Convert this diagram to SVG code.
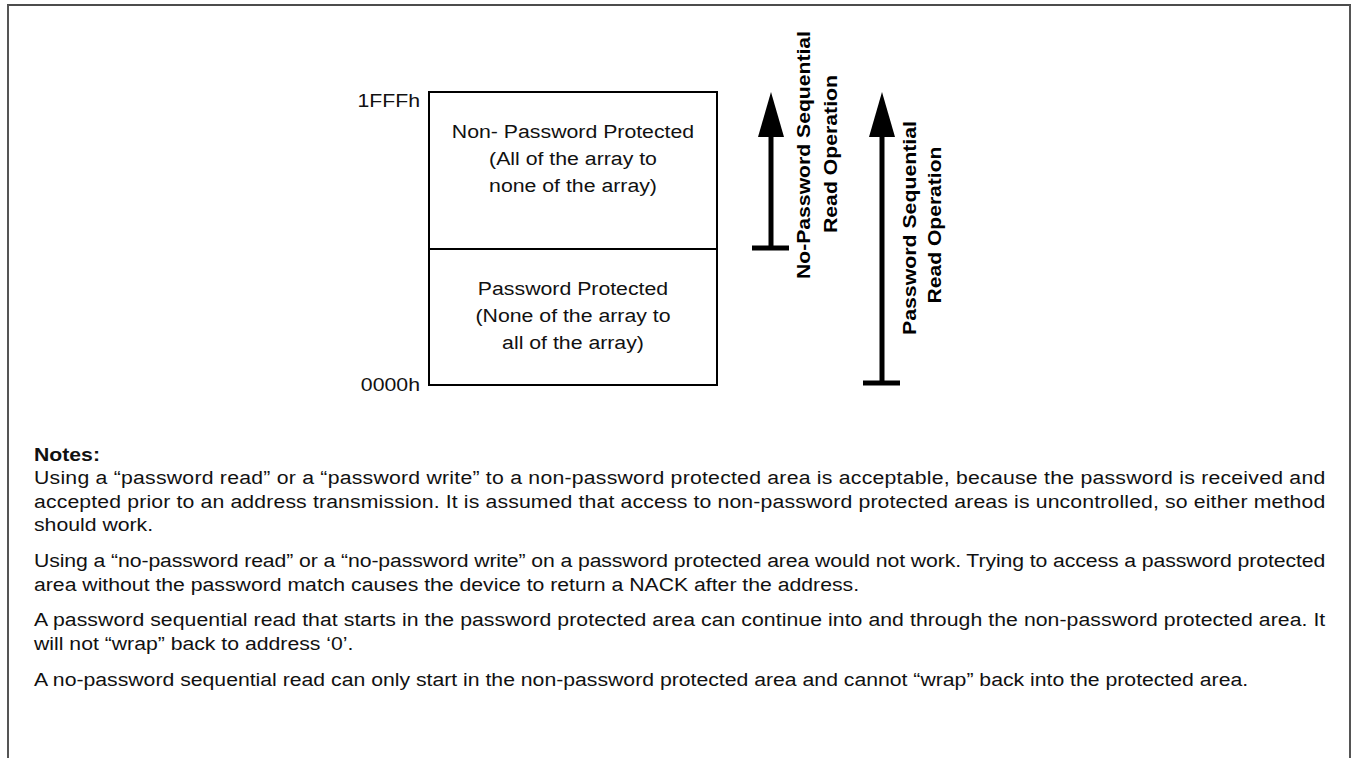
<svg xmlns="http://www.w3.org/2000/svg" width="1353" height="758" viewBox="0 0 1353 758">
  <style>
    .frame { fill: none; stroke: #555; stroke-width: 2; }
    .frametop { stroke: #111; stroke-width: 1.5; }
    .box { fill: #fff; stroke: #000; stroke-width: 2; }
    .lbl { font-family: "Liberation Sans", Arial, sans-serif; font-size: 19px; fill: #111; }
    .mid { text-anchor: middle; }
    .end { text-anchor: end; }
    .bold { font-family: "Liberation Sans", Arial, sans-serif; font-size: 19px; font-weight: bold; fill: #000; text-anchor: middle; }
    .note { font-family: "Liberation Sans", Arial, sans-serif; font-size: 19px; fill: #111; }
    .shaft { stroke: #000; stroke-width: 5; fill: none; }
    .head { fill: #000; }
  </style>

  <!-- page frame -->
  <g id="frame">
    <line class="frametop" x1="7" y1="5" x2="1351" y2="5"/>
    <line class="frame" x1="8" y1="5" x2="8" y2="758"/>
    <line class="frame" x1="1350" y1="5" x2="1350" y2="758"/>
  </g>

  <!-- memory map; horizontal type is set slightly expanded (x 1.12) -->
  <g id="addr-top">
    <text class="lbl end" transform="matrix(1.12 0 0 1 420 107)">1FFFh</text>
  </g>
  <g id="addr-bottom">
    <text class="lbl end" transform="matrix(1.12 0 0 1 420 391)">0000h</text>
  </g>
  <g id="region-unprotected">
    <rect class="box" x="429" y="92" width="288" height="157"/>
    <text class="lbl mid" transform="matrix(1.12 0 0 1 573 138)">Non- Password Protected</text>
    <text class="lbl mid" transform="matrix(1.12 0 0 1 573 165)">(All of the array to</text>
    <text class="lbl mid" transform="matrix(1.12 0 0 1 573 192)">none of the array)</text>
  </g>
  <g id="region-protected">
    <rect class="box" x="429" y="249" width="288" height="136"/>
    <text class="lbl mid" transform="matrix(1.12 0 0 1 573 295)">Password Protected</text>
    <text class="lbl mid" transform="matrix(1.12 0 0 1 573 322)">(None of the array to</text>
    <text class="lbl mid" transform="matrix(1.12 0 0 1 573 349)">all of the array)</text>
  </g>

  <!-- sequential read direction arrows -->
  <g id="connectors">
    <g id="no-password-read">
      <line class="shaft" x1="771" y1="248" x2="771" y2="130"/>
      <polygon class="head" points="771,92 758,137 784,137"/>
      <line class="shaft" x1="752" y1="248" x2="789" y2="248"/>
    </g>
    <g id="password-read">
      <line class="shaft" x1="882" y1="383" x2="882" y2="130"/>
      <polygon class="head" points="882,92 869,137 895,137"/>
      <line class="shaft" x1="863" y1="383" x2="900" y2="383"/>
    </g>
  </g>

  <g id="label-no-password">
    <text class="bold" transform="translate(810,155) rotate(-90)" textLength="248" lengthAdjust="spacingAndGlyphs">No-Password Sequential</text>
    <text class="bold" transform="translate(837,154) rotate(-90)" textLength="158" lengthAdjust="spacingAndGlyphs">Read Operation</text>
  </g>
  <g id="label-password">
    <text class="bold" transform="translate(916,228) rotate(-90)" textLength="214" lengthAdjust="spacingAndGlyphs">Password Sequential</text>
    <text class="bold" transform="translate(941,225) rotate(-90)" textLength="157" lengthAdjust="spacingAndGlyphs">Read Operation</text>
  </g>

  <!-- notes; justified lines fill the column, type expanded x 1.117 -->
  <g id="notes" transform="translate(34,0) scale(1.117,1)">
    <text class="note" x="0" y="461" font-weight="bold">Notes:</text>
    <text class="note" x="0" y="484" textLength="1156" lengthAdjust="spacing">Using a “password read” or a “password write” to a non-password protected area is acceptable, because the password is received and</text>
    <text class="note" x="0" y="508" textLength="1156" lengthAdjust="spacing">accepted prior to an address transmission. It is assumed that access to non-password protected areas is uncontrolled, so either method</text>
    <text class="note" x="0" y="531">should work.</text>
    <text class="note" x="0" y="567" textLength="1156" lengthAdjust="spacing">Using a “no-password read” or a “no-password write” on a password protected area would not work. Trying to access a password protected</text>
    <text class="note" x="0" y="591">area without the password match causes the device to return a NACK after the address.</text>
    <text class="note" x="0" y="626" textLength="1156" lengthAdjust="spacing">A password sequential read that starts in the password protected area can continue into and through the non-password protected area. It</text>
    <text class="note" x="0" y="650">will not “wrap” back to address ‘0’.</text>
    <text class="note" x="0" y="686">A no-password sequential read can only start in the non-password protected area and cannot “wrap” back into the protected area.</text>
  </g>
</svg>
